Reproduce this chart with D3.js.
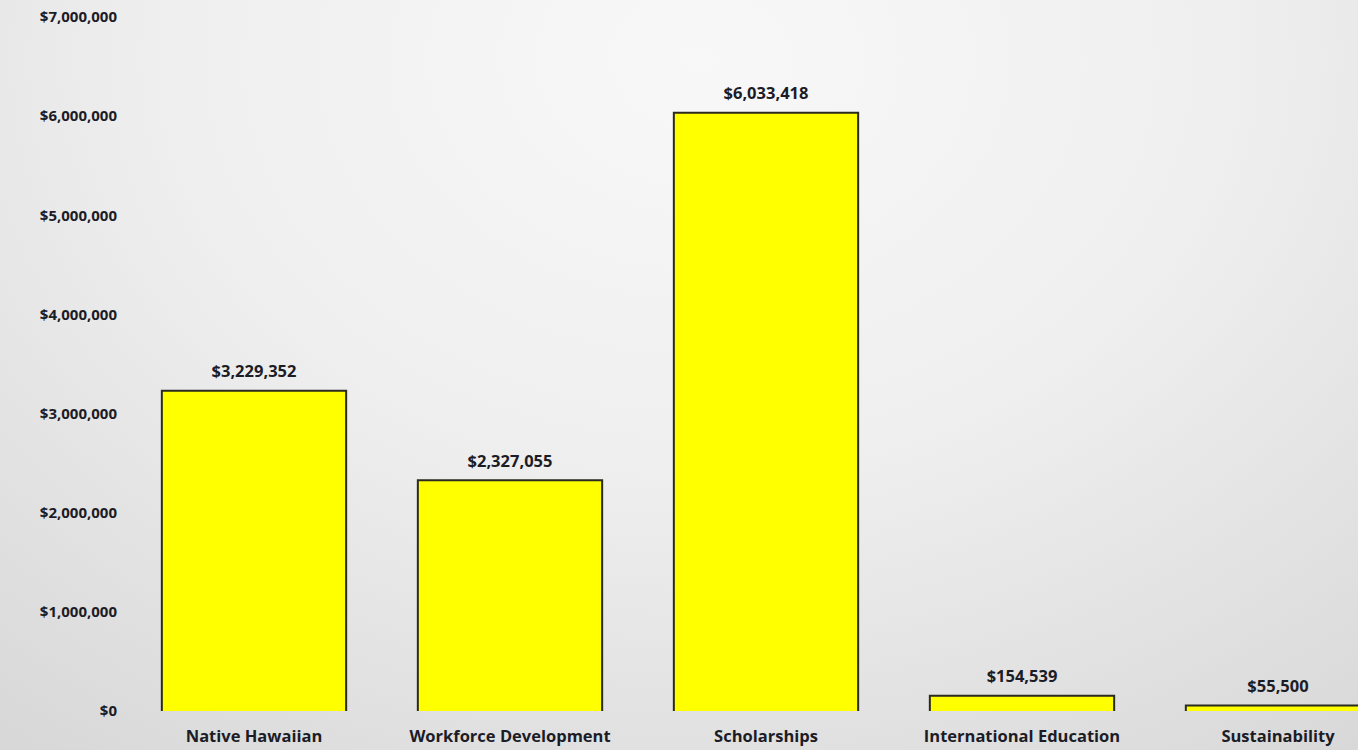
<!DOCTYPE html>
<html><head><meta charset="utf-8">
<script src="https://cdn.jsdelivr.net/npm/d3@7"></script>
<style>html,body{margin:0;padding:0;overflow:hidden;}svg{display:block;}</style>
</head><body>
<script>
const categories = ["Native Hawaiian","Workforce Development","Scholarships","International Education","Sustainability"];
const values = [3229352,2327055,6033418,154539,55500];
const tickValues = [0,1000000,2000000,3000000,4000000,5000000,6000000,7000000];

const W = 1358, H = 750;
const svg = d3.select("body").append("svg").attr("width", W).attr("height", H);
const defs = svg.append("defs");
const grad = defs.append("radialGradient").attr("id","bg")
  .attr("gradientUnits","userSpaceOnUse").attr("cx",700).attr("cy",60).attr("r",900)
  .attr("gradientTransform","translate(700,60) scale(1.3,1) translate(-700,-60)");
grad.append("stop").attr("offset","0%").attr("stop-color","#f8f8f8");
grad.append("stop").attr("offset","45%").attr("stop-color","#efefef");
grad.append("stop").attr("offset","100%").attr("stop-color","#d6d6d6");
svg.append("rect").attr("width",W).attr("height",H).attr("fill","url(#bg)");

const font = "'Open Sans', sans-serif";
const ink = "#1c1c26";
const x = d3.scaleBand().domain(categories).range([126, 126+5*256]).paddingInner(0.28).paddingOuter(0.14);
const y = d3.scaleLinear().domain([0,7000000]).range([711, 17]);

const fmt = v => "$" + d3.format(",")(v);

// y axis labels
const yAxis = d3.axisLeft(y).tickValues(tickValues).tickFormat(fmt).tickSize(0).tickPadding(0);
const ya = svg.append("g").attr("transform","translate(117,0)").call(yAxis);
ya.select(".domain").remove();
ya.selectAll("text").attr("font-family",font).attr("font-weight",700).attr("font-size","15px").attr("fill",ink);

// bars
const g = svg.append("g");
g.selectAll("rect.bar").data(values).join("rect").attr("class","bar")
  .attr("x",(d,i)=>x(categories[i])).attr("width",x.bandwidth())
  .attr("y",d=>y(d)).attr("height",d=>y(0)-y(d)).attr("fill","#ffff00");
g.selectAll("path.outline").data(values).join("path").attr("class","outline")
  .attr("d",(d,i)=>{const x0=x(categories[i]), x1=x0+x.bandwidth(); return `M${x0},${y(0)}V${y(d)}H${x1}V${y(0)}`;})
  .attr("fill","none").attr("stroke","#2a2a20").attr("stroke-width",2);

// value labels
g.selectAll("text.val").data(values).join("text").attr("class","val")
  .attr("x",(d,i)=>x(categories[i])+x.bandwidth()/2).attr("y",d=>y(d)-13.5)
  .attr("text-anchor","middle").attr("font-family",font).attr("font-weight",700).attr("font-size","16.5px").attr("fill",ink)
  .text(fmt);

// category labels
const xAxis = d3.axisBottom(x).tickSize(0).tickPadding(0);
const xa = svg.append("g").attr("transform","translate(0,730)").call(xAxis);
xa.select(".domain").remove();
xa.selectAll("text").attr("font-family",font).attr("font-weight",700).attr("font-size","16.5px").attr("fill",ink);
</script>
</body></html>
